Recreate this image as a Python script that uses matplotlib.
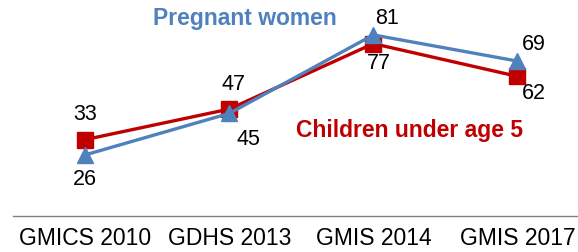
import matplotlib.pyplot as plt

surveys = ['GMICS 2010', 'GDHS 2013', 'GMIS 2014', 'GMIS 2017']
children = [33, 47, 77, 62]
pregnant = [26, 45, 81, 69]

red = '#C00000'
blue = '#4F81BD'

plt.rcParams['font.family'] = ['Liberation Sans', 'DejaVu Sans']

fig = plt.figure(figsize=(5.78, 2.52), dpi=100)
ax = fig.add_axes([13 / 578, 36 / 252, 565 / 578, 216 / 252])

x = list(range(len(surveys)))
ax.plot(x, children, color=red, lw=2.4, marker='s', ms=11, zorder=2)
ax.plot(x, pregnant, color=blue, lw=2.4, marker='^', ms=12, zorder=3)

# data labels (offsets in points)
child_off = [(0, 18), (3, 18), (4, -14), (12, -12)]
preg_off = [(0, -18), (14, -19), (10, 12), (12, 12)]
for i in x:
    ax.annotate(str(children[i]), (i, children[i]), xytext=child_off[i],
                textcoords='offset points', ha='center', va='center', fontsize=15.5)
    ax.annotate(str(pregnant[i]), (i, pregnant[i]), xytext=preg_off[i],
                textcoords='offset points', ha='center', va='center', fontsize=15.5)

ax.text(1.11, 88.5, 'Pregnant women', color=blue, fontsize=16.5, fontweight='bold',
        ha='center', va='center')
ax.text(2.25, 37, 'Children under age 5', color=red, fontsize=16.5, fontweight='bold',
        ha='center', va='center')

ax.set_xlim(-0.5, 3.42)
ax.set_ylim(-2, 97)
ax.set_xticks(x)
ax.set_xticklabels(surveys, fontsize=16.5)
ax.tick_params(axis='x', length=0, pad=8)
ax.set_yticks([])
for s in ['top', 'right', 'left']:
    ax.spines[s].set_visible(False)
ax.spines['bottom'].set_color('#808080')
ax.spines['bottom'].set_linewidth(1)

fig.savefig('out.png', dpi=100)
